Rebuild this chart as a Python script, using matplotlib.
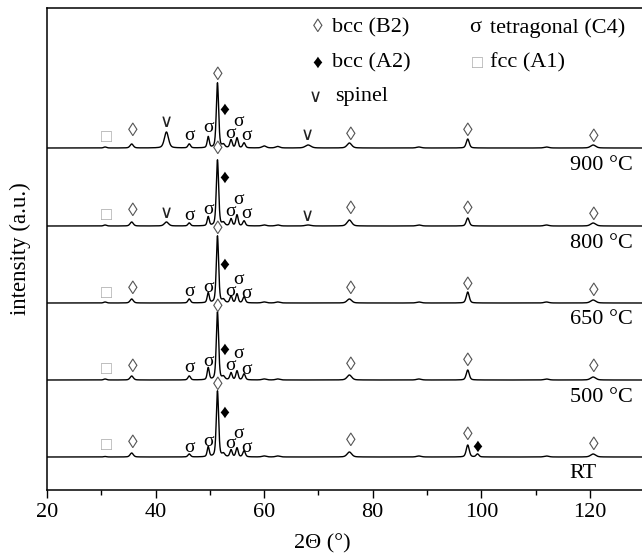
import numpy as np
import matplotlib.pyplot as plt

plt.rcParams['font.family'] = ['Liberation Serif', 'DejaVu Serif', 'DejaVu Sans']

# 2theta grid for the simulated patterns
two_theta = np.arange(20, 130.01, 0.02)

samples = ['RT', '500 °C', '650 °C', '800 °C', '900 °C']
baselines = [33, 110, 187, 264, 342]   # vertical offset of each pattern (a.u.)

# reflections (2theta in deg) and their widths
peak_pos = [30.7, 35.6, 42.0, 46.2, 49.7, 51.4, 52.5, 53.9, 55.0, 56.3,
            60.0, 62.5, 68.1, 75.7, 88.5, 97.5, 99.3, 112.0, 120.6]
peak_fwhm = [0.6, 0.7, 0.9, 0.55, 0.45, 0.5, 0.6, 0.5, 0.5, 0.55,
             0.9, 0.9, 1.2, 1.0, 1.0, 0.65, 0.6, 1.0, 1.1]

# peak heights per sample (a.u.)
heights_rt = [0.5, 4, 0, 3, 10, 66, 3, 7, 9, 6, 1, 1, 0, 5, 1, 12, 3, 1, 3]
heights_500 = [1, 4, 0, 4, 12, 68, 3, 7, 9, 6, 1, 1, 0, 5, 1, 10, 0, 1, 3]
heights_650 = [1, 4, 0, 4, 10, 67, 3, 7, 9, 6, 1, 1, 0, 4, 1, 11, 0, 1, 3]
heights_800 = [1, 4, 4, 3, 9, 66, 3, 7, 11, 5, 1, 1, 1, 6, 1, 8, 0, 1, 3]
heights_900 = [1, 4, 16, 4, 11, 65, 3, 8, 10, 5, 2, 1.5, 3, 5, 1, 9, 0, 1, 3]
heights = [heights_rt, heights_500, heights_650, heights_800, heights_900]

# phase markers: (symbol, 2theta, height above baseline)
marks_rt = [('□', 31.0, 11), ('◊', 35.8, 13), ('σ', 46.2, 10), ('σ', 49.7, 15),
            ('◊', 51.5, 71), ('♦', 52.7, 44), ('σ', 53.8, 13), ('σ', 55.2, 24),
            ('σ', 56.8, 10), ('◊', 75.9, 15), ('◊', 97.5, 21), ('♦', 99.2, 10),
            ('◊', 120.7, 12)]
marks_500 = [('□', 31.0, 11), ('◊', 35.8, 13), ('σ', 46.2, 12), ('σ', 49.7, 18),
             ('◊', 51.5, 72), ('♦', 52.7, 30), ('σ', 53.8, 14), ('σ', 55.2, 26),
             ('σ', 56.8, 11), ('◊', 75.9, 15), ('◊', 97.5, 18), ('◊', 120.7, 13)]
marks_650 = [('□', 31.0, 10), ('◊', 35.8, 13), ('σ', 46.2, 11), ('σ', 49.7, 15),
             ('◊', 51.5, 74), ('♦', 52.7, 38), ('σ', 53.8, 11), ('σ', 55.2, 23),
             ('σ', 56.8, 10), ('◊', 75.9, 13), ('◊', 97.5, 17), ('◊', 120.7, 11)]
marks_800 = [('□', 31.0, 11), ('◊', 35.8, 15), ('∨', 42.0, 13), ('σ', 46.2, 11),
             ('σ', 49.7, 17), ('◊', 51.5, 76), ('♦', 52.7, 48), ('σ', 53.8, 14),
             ('σ', 55.2, 26), ('σ', 56.8, 12), ('∨', 68.0, 10), ('◊', 75.9, 17),
             ('◊', 97.5, 16), ('◊', 120.7, 11)]
marks_900 = [('□', 31.0, 10), ('◊', 35.8, 16), ('∨', 42.0, 26), ('σ', 46.2, 13),
             ('σ', 49.7, 20), ('◊', 51.5, 72), ('♦', 52.7, 38), ('σ', 53.8, 14),
             ('σ', 55.2, 26), ('σ', 56.8, 12), ('∨', 68.0, 13), ('◊', 75.9, 13),
             ('◊', 97.5, 16), ('◊', 120.7, 11)]
marks = [marks_rt, marks_500, marks_650, marks_800, marks_900]

sym_style = {
    '◊': dict(color='#555555', fontsize=14),
    '♦': dict(color='black', fontsize=14),
    'σ': dict(color='black', fontsize=14),
    '∨': dict(color='#222222', fontsize=13, family=['DejaVu Sans', 'DejaVu Serif']),
    '□': dict(color='#aaaaaa', fontsize=13),
}


def pattern(hts):
    y = np.zeros_like(two_theta)
    for p, w, h in zip(peak_pos, peak_fwhm, hts):
        g = np.exp(-4 * np.log(2) * ((two_theta - p) / w) ** 2)
        l = 1 / (1 + 4 * ((two_theta - p) / w) ** 2)
        y += h * (0.6 * g + 0.4 * l)
    return y


fig = plt.figure(figsize=(6.42, 5.55), dpi=100)
ax = fig.add_axes([47 / 642, 1 - 490 / 555, 1 - 47 / 642, 482 / 555])

for name, base, hts, mk in zip(samples, baselines, heights, marks):
    ax.plot(two_theta, base + pattern(hts), color='black', lw=1.0)
    for sym, x, dy in mk:
        ax.text(x, base + dy, sym, ha='center', va='center', **sym_style[sym])
    ax.text(116.3, base - 17, name, ha='left', va='center', fontsize=16)

ax.set_xlim(20, 129.6)
ax.set_ylim(0, 482)
ax.set_xticks([20, 40, 60, 80, 100, 120])
ax.set_xticks(np.arange(30, 130, 20), minor=True)
ax.set_yticks([])
ax.tick_params(axis='x', which='major', direction='out', length=6, width=1, labelsize=16)
ax.tick_params(axis='x', which='minor', direction='out', length=3.5, width=1)
ax.spines['right'].set_visible(False)
for s in ['left', 'top', 'bottom']:
    ax.spines[s].set_linewidth(1.1)

# phase legend written as text
legend_rows = [
    [('◊', 'bcc (B2)', 318, 332), ('σ', 'tetragonal (C4)', 475, 490)],
    [('♦', 'bcc (A2)', 317, 332), ('□', 'fcc (A1)', 477, 490)],
    [('∨', 'spinel', 315, 335)],
]
row_y = [28, 63, 97]
for row, yy in zip(legend_rows, row_y):
    for sym, label, xs, xt in row:
        st = dict(sym_style[sym])
        if sym == 'σ':
            st['fontsize'] = 16
        fig.text(xs / 642, 1 - yy / 555, sym, ha='center', va='center', **st)
        fig.text(xt / 642, 1 - yy / 555, label, ha='left', va='center', fontsize=16)

fig.text(322 / 642, 1 - 544 / 555, '2Θ (°)', ha='center', va='center', fontsize=16)
fig.text(20 / 642, 1 - 249 / 555, 'intensity (a.u.)', ha='center', va='center',
         rotation=90, fontsize=16.5)

fig.savefig('out.png', dpi=100)
